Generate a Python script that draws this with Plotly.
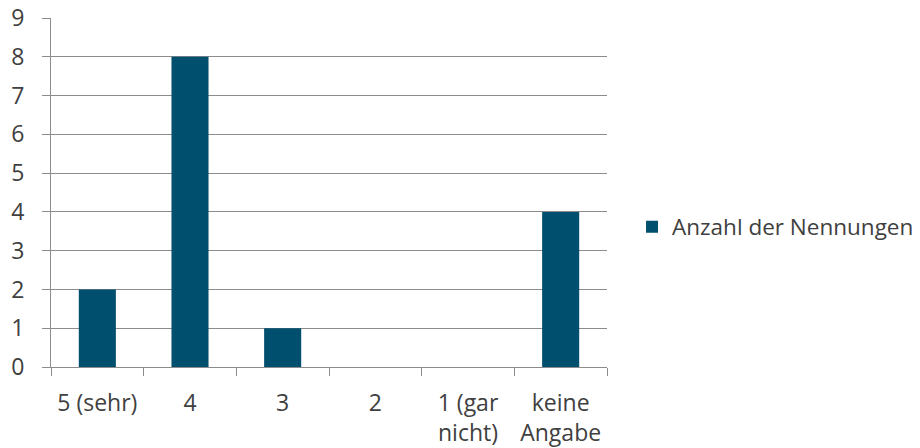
import plotly.graph_objects as go

categories = ["5 (sehr)", "4", "3", "2", "1 (gar<br>nicht)", "keine<br>Angabe"]
counts = [2, 8, 1, 0, 0, 4]
series_name = "Anzahl der Nennungen"
y_ticks = list(range(0, 10))

bar_color = "#004F6F"
grid_color = "#8C8C8C"
text_color = "#404040"
font_size = 23

fig = go.Figure(
    go.Bar(
        x=categories,
        y=counts,
        name=series_name,
        marker=dict(color=bar_color, line=dict(width=0)),
        showlegend=True,
    )
)

fig.update_layout(
    width=920,
    height=448,
    margin=dict(l=51, r=313, t=18, b=81, autoexpand=False),
    paper_bgcolor="white",
    plot_bgcolor="white",
    font=dict(family="Open Sans", size=font_size, color=text_color),
    bargap=0.6,
    showlegend=True,
    legend=dict(
        x=1.045,
        y=0.401,
        xanchor="left",
        yanchor="middle",
        font=dict(size=font_size - 0.5, color=text_color),
        itemwidth=30,
        bgcolor="rgba(0,0,0,0)",
    ),
)

fig.update_xaxes(
    type="category",
    tickson="boundaries",
    ticks="outside",
    ticklen=8,
    tickcolor=grid_color,
    tickwidth=1,
    tickangle=0,
    automargin=False,
    showline=True,
    linecolor=grid_color,
    linewidth=1,
    showgrid=False,
    ticklabelstandoff=15,
    tickfont=dict(size=font_size, color=text_color),
)

fig.update_yaxes(
    range=[0, 9],
    tickvals=y_ticks,
    ticks="outside",
    ticklen=8,
    tickcolor=grid_color,
    tickwidth=1,
    automargin=False,
    showline=True,
    linecolor=grid_color,
    linewidth=1,
    showgrid=True,
    gridcolor=grid_color,
    gridwidth=1,
    zeroline=False,
    ticklabelstandoff=13,
    tickfont=dict(size=font_size, color=text_color),
)

fig.write_html("out.html")
